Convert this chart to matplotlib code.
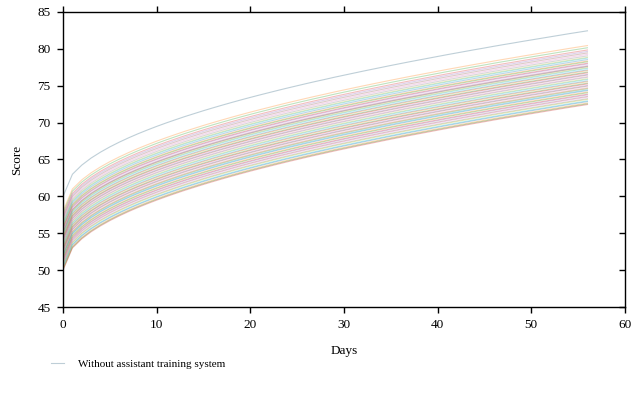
import numpy as np
import matplotlib
matplotlib.use("Agg")
import matplotlib.pyplot as plt

# day index of each recorded score
days = list(range(57))

# points gained over the starting score, per day
growth = [0.00, 3.00, 4.24, 5.20, 6.00, 6.71, 7.35, 7.94, 8.49, 9.00, 9.49,
          9.95, 10.39, 10.82, 11.22, 11.62, 12.00, 12.37, 12.73, 13.08,
          13.42, 13.75, 14.07, 14.39, 14.70, 15.00, 15.30, 15.59, 15.87,
          16.16, 16.43, 16.70, 16.97, 17.23, 17.49, 17.75, 18.00, 18.25,
          18.49, 18.73, 18.97, 19.21, 19.44, 19.67, 19.90, 20.12, 20.35,
          20.57, 20.78, 21.00, 21.21, 21.42, 21.63, 21.84, 22.05, 22.25,
          22.45]

# starting score (day 0) of each trainee
start_scores = [60.0, 58.0, 57.7, 57.4, 57.2, 57.0, 56.8, 56.6, 56.4, 56.3,
                56.1, 55.9, 55.8, 55.6, 55.5, 55.15, 55.3, 55.2, 55.0, 54.9,
                54.7, 54.6, 54.4, 54.3, 54.1, 54.0, 53.8, 53.7, 53.5, 53.4,
                53.2, 53.1, 52.9, 52.8, 52.6, 52.5, 52.3, 52.15, 52.2, 52.0,
                51.9, 51.7, 51.6, 51.4, 51.3, 51.1, 51.0, 50.8, 50.7, 50.5,
                50.4, 50.2, 50.1, 50.0]

plt.rcParams["font.family"] = ["Liberation Serif", "DejaVu Serif"]
plt.rcParams["font.size"] = 9.5

fig = plt.figure(figsize=(6.37, 4.0), dpi=100)
ax = fig.add_axes([0.099, 0.2325, 0.882, 0.7375])

colors = plt.rcParams["axes.prop_cycle"].by_key()["color"]
g = np.array(growth)
for i, s in enumerate(start_scores):
    lbl = "Without assistant training system" if i == 0 else None
    ax.plot(days, s + g, color=colors[i % len(colors)], alpha=0.3,
            linewidth=0.8, label=lbl)
# the top line sits apart in a grey-blue tone
ax.lines[0].set_color("#7f9fb0")
ax.lines[0].set_alpha(0.5)

ax.set_xlim(0, 60)
ax.set_ylim(45, 85)
ax.set_xticks(range(0, 61, 10))
ax.set_yticks(range(45, 86, 5))
ax.set_xlabel("Days", labelpad=10)
ax.set_ylabel("Score", labelpad=10)

for sp in ax.spines.values():
    sp.set_linewidth(1.0)
ax.tick_params(axis="both", which="major", direction="out", length=4,
               width=1.0, pad=5, top=True, right=False)

# right-side ticks point inward, others point outward
sec = ax.secondary_yaxis("right")
sec.set_yticks(range(45, 86, 5))
sec.tick_params(direction="in", length=4, width=1.0, labelright=False)
sec.spines["right"].set_visible(False)

fig.legend(loc="lower left", bbox_to_anchor=(0.065, 0.052), frameon=False,
           handlelength=1.1, handletextpad=1.3, fontsize=8)

fig.savefig("out.png", dpi=100)
